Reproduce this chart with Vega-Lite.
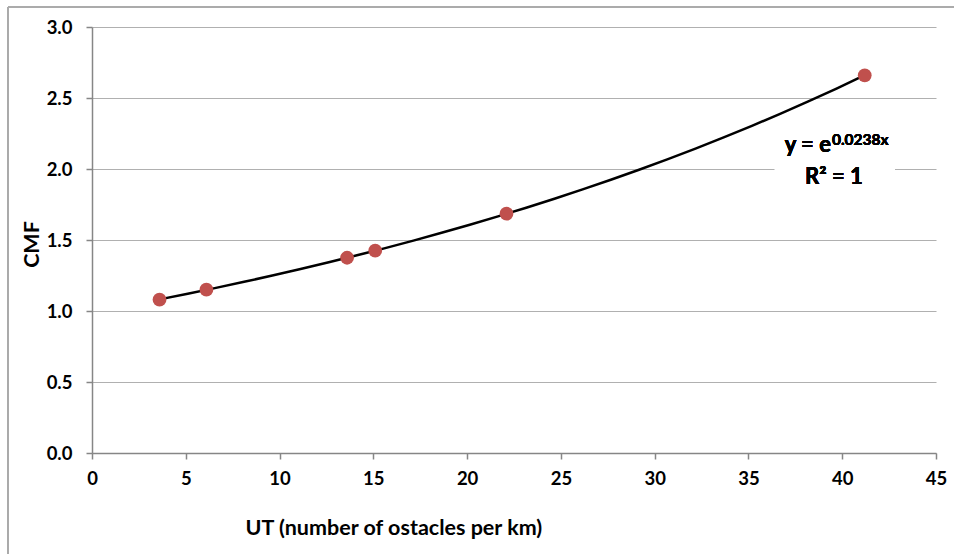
{
  "$schema": "https://vega.github.io/schema/vega-lite/v6.json",
  "width": 844,
  "height": 426,
  "autosize": {"type": "none"},
  "padding": {"left": 92, "top": 27, "right": 18, "bottom": 101},
  "background": "white",
  "config": {
    "view": {"stroke": null},
    "font": "Lato",
    "axis": {
      "labelFont": "Lato", "labelFontWeight": "bold", "labelFontSize": 18.5, "labelColor": "black",
      "titleFont": "Lato", "titleFontWeight": "bold", "titleFontSize": 21.5, "titleColor": "black",
      "domainColor": "#868686", "domainWidth": 1.5, "tickColor": "#868686", "tickWidth": 1.5, "tickSize": 6,
      "gridColor": "#b0b0b0", "gridWidth": 1.2
    }
  },
  "data": {
    "values": [
      {"UT": 3.6, "CMF": 1.08},
      {"UT": 6.1, "CMF": 1.15},
      {"UT": 13.6, "CMF": 1.375},
      {"UT": 15.1, "CMF": 1.425},
      {"UT": 22.1, "CMF": 1.685},
      {"UT": 41.2, "CMF": 2.66}
    ]
  },
  "encoding": {
    "x": {
      "field": "UT", "type": "quantitative",
      "scale": {"domain": [0, 45], "nice": false, "zero": false},
      "axis": {
        "values": [0, 5, 10, 15, 20, 25, 30, 35, 40, 45], "grid": false,
        "labelPadding": 10, "labelFlush": false,
        "title": "UT (number of ostacles per km)",
        "titleAnchor": "start", "titleAlign": "left", "titleX": 153, "titleY": 81, "titleBaseline": "alphabetic"
      }
    },
    "y": {
      "field": "CMF", "type": "quantitative",
      "scale": {"domain": [0, 3], "nice": false},
      "axis": {
        "values": [0, 0.5, 1, 1.5, 2, 2.5, 3], "format": ".1f", "grid": true,
        "labelPadding": 14, "labelFlush": false,
        "title": "CMF", "titleX": -60, "titleY": 217, "titleAngle": 270, "titleAlign": "center", "titleBaseline": "middle"
      }
    }
  },
  "layer": [
    {
      "mark": {"type": "rule", "color": "#ababab", "strokeWidth": 1.5},
      "encoding": {
        "x": {"datum": -4.48, "type": "quantitative"},
        "y": {"datum": 3.141, "type": "quantitative"},
        "y2": {"datum": -1.2}
      }
    },
    {
      "mark": {"type": "rule", "color": "#ababab", "strokeWidth": 1.5},
      "encoding": {
        "x": {"datum": -4.48, "type": "quantitative"},
        "x2": {"datum": 52},
        "y": {"datum": 3.141, "type": "quantitative"}
      }
    },
    {
      "transform": [{"regression": "CMF", "on": "UT", "method": "exp"}],
      "mark": {"type": "line", "color": "black", "strokeWidth": 2.5}
    },
    {
      "mark": {"type": "circle", "color": "#C0504D", "opacity": 1, "size": 190}
    },
    {
      "mark": {"type": "rect", "color": "white"},
      "encoding": {
        "x": {"datum": 36.41, "type": "quantitative"},
        "x2": {"datum": 42.81},
        "y": {"datum": 1.9, "type": "quantitative"},
        "y2": {"datum": 2.25}
      }
    },
    {
      "mark": {"type": "text", "text": "y = e", "align": "right", "baseline": "alphabetic", "font": "Lato", "fontWeight": "bold", "fontSize": 22, "color": "black"},
      "encoding": {
        "x": {"datum": 39.4, "type": "quantitative"},
        "y": {"datum": 2.12, "type": "quantitative"}
      }
    },
    {
      "mark": {"type": "text", "text": "0.0238x", "align": "left", "baseline": "alphabetic", "font": "Lato", "fontWeight": "bold", "fontSize": 15.5, "color": "black"},
      "encoding": {
        "x": {"datum": 39.45, "type": "quantitative"},
        "y": {"datum": 2.169, "type": "quantitative"}
      }
    },
    {
      "mark": {"type": "text", "text": "R² = 1", "align": "center", "baseline": "alphabetic", "font": "Lato", "fontWeight": "bold", "fontSize": 22, "color": "black"},
      "encoding": {
        "x": {"datum": 39.56, "type": "quantitative"},
        "y": {"datum": 1.894, "type": "quantitative"}
      }
    }
  ]
}
